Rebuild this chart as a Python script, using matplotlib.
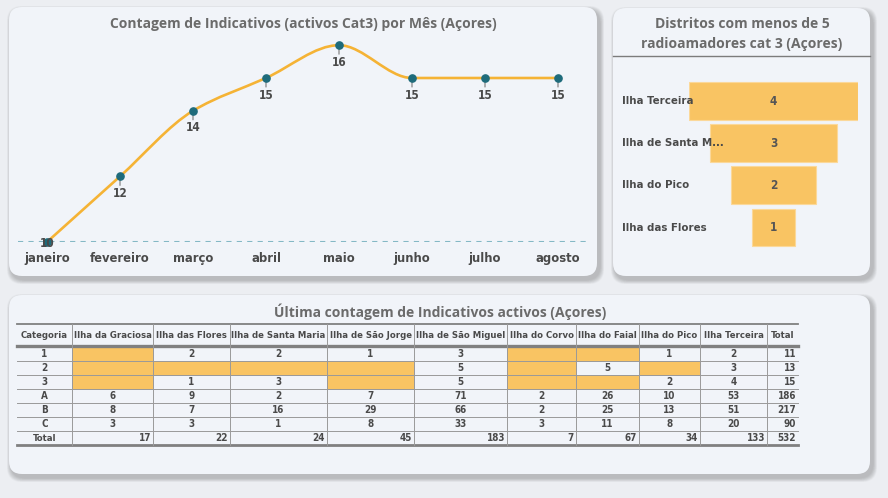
import numpy as np
import matplotlib
matplotlib.use("Agg")
import matplotlib.pyplot as plt
from matplotlib.patches import FancyBboxPatch, Rectangle
from matplotlib.path import Path
from matplotlib.patches import PathPatch
from matplotlib.transforms import blended_transform_factory

# ---- data ----
months = ["janeiro", "fevereiro", "março", "abril", "maio", "junho", "julho", "agosto"]
month_counts = [10, 12, 14, 15, 16, 15, 15, 15]

funnel_labels = ["Ilha Terceira", "Ilha de Santa Maria", "Ilha do Pico", "Ilha das Flores"]
funnel_values = [4, 3, 2, 1]

table_categories = ["1", "2", "3", "A", "B", "C"]
islands = ["Ilha da Graciosa", "Ilha das Flores", "Ilha de Santa Maria", "Ilha de São Jorge",
           "Ilha de São Miguel", "Ilha do Corvo", "Ilha do Faial", "Ilha do Pico", "Ilha Terceira"]
graciosa = [None, None, None, 6, 8, 3]
flores = [2, None, 1, 9, 7, 3]
santa_maria = [2, None, 3, 2, 16, 1]
sao_jorge = [1, None, None, 7, 29, 8]
sao_miguel = [3, 5, 5, 71, 66, 33]
corvo = [None, None, None, 2, 2, 3]
faial = [None, 5, None, 26, 25, 11]
pico = [1, None, 2, 10, 13, 8]
terceira = [2, 3, 4, 53, 51, 20]
island_cols = [graciosa, flores, santa_maria, sao_jorge, sao_miguel, corvo, faial, pico, terceira]

W, H = 888, 498
FIG_BG = "#eceef2"
PANEL_BG = "#f1f4f9"
TITLE_C = "#6b6b6b"
TEXT_C = "#4a4a4a"
ORANGE = "#f9c463"
LINE_C = "#f5b335"
TEAL = "#1e6b7b"

COND = dict(family="DejaVu Sans", fontstretch="condensed", fontweight="bold")

fig = plt.figure(figsize=(W / 100, H / 100), dpi=100)
fig.patch.set_facecolor(FIG_BG)

bg = fig.add_axes([0, 0, 1, 1], zorder=0)
bg.set_xlim(0, W)
bg.set_ylim(H, 0)
bg.axis("off")


def px_axes(x0, y0, x1, y1):
    a = fig.add_axes([x0 / W, 1 - y1 / H, (x1 - x0) / W, (y1 - y0) / H], zorder=2)
    a.patch.set_alpha(0)
    for s in a.spines.values():
        s.set_visible(False)
    return a


def panel(x0, y0, x1, y1):
    # soft shadow
    for k in range(10, 0, -1):
        sh = FancyBboxPatch((x0 + 2 - k * 0.4, y0 + 3 - k * 0.4), x1 - x0 + k * 0.8 + 1,
                            y1 - y0 + k * 0.8 + 1,
                            boxstyle="round,pad=0,rounding_size=15",
                            fc="#6a6a6a", ec="none", alpha=0.045)
        bg.add_patch(sh)
    p = FancyBboxPatch((x0, y0), x1 - x0, y1 - y0, boxstyle="round,pad=0,rounding_size=13",
                       fc=PANEL_BG, ec="none")
    bg.add_patch(p)


panel(9, 7, 597, 276)
panel(613, 8, 870, 276)
panel(9, 295, 870, 474)

# ---- line chart ----
bg.text(303, 24, "Contagem de Indicativos (activos Cat3) por Mês (Açores)", ha="center", va="center",
        fontsize=10, fontweight="bold", color=TITLE_C, family="Open Sans")

ax1 = px_axes(18, 35, 587, 242)
step_px, unit_px = 73.0, 32.8
ax1.set_xlim(-29 / step_px, len(months) - 1 + 29 / step_px)
ax1.set_ylim(min(month_counts), min(month_counts) + 207 / unit_px)
ax1.set_xticks([])
ax1.set_yticks([])

xs = np.arange(len(months), dtype=float)
ys = np.array(month_counts, dtype=float)

# monotone cubic bezier through the points (rendering only)
d = np.diff(ys) / np.diff(xs)
m = np.zeros_like(ys)
m[0], m[-1] = d[0], d[-1]
for k in range(1, len(ys) - 1):
    if d[k - 1] * d[k] > 0:
        m[k] = 2 / (1 / d[k - 1] + 1 / d[k])
verts = [(xs[0], ys[0])]
codes = [Path.MOVETO]
for k in range(len(xs) - 1):
    h = xs[k + 1] - xs[k]
    verts += [(xs[k] + h / 3, ys[k] + m[k] * h / 3),
              (xs[k + 1] - h / 3, ys[k + 1] - m[k + 1] * h / 3),
              (xs[k + 1], ys[k + 1])]
    codes += [Path.CURVE4] * 3
ax1.add_patch(PathPatch(Path(verts, codes), fc="none", ec=LINE_C, lw=1.9, clip_on=False, zorder=3))

ax1.axhline(min(month_counts), color="#84b8c5", lw=1.5, ls=(0, (2.5, 2.5)), zorder=2)
ax1.plot(xs, ys, "o", color=TEAL, ms=5.2, clip_on=False, zorder=4)

for k, v in enumerate(month_counts):
    if v == min(month_counts):
        ax1.annotate(str(v), (k, v), xytext=(0, -1), textcoords="offset pixels",
                     ha="center", va="center", fontsize=8.5, color=TEXT_C, zorder=5, **COND)
    else:
        ax1.annotate("", (k, v), xytext=(0, -9), textcoords="offset pixels",
                     arrowprops=dict(arrowstyle="-", color="#777777", lw=0.8, shrinkA=0, shrinkB=0))
        ax1.annotate(str(v), (k, v), xytext=(0, -17), textcoords="offset pixels",
                     ha="center", va="center", fontsize=8.5, color=TEXT_C, **COND)
    ax1.annotate(months[k], (k, min(month_counts)), xytext=(0, -16), textcoords="offset pixels",
                 ha="center", va="center", fontsize=9.3, color=TEXT_C, annotation_clip=False, **COND)

# ---- funnel ----
bg.text(742, 24, "Distritos com menos de 5", ha="center", va="center",
        fontsize=10, fontweight="bold", color=TITLE_C, family="Open Sans")
bg.text(742, 44, "radioamadores cat 3 (Açores)", ha="center", va="center",
        fontsize=10, fontweight="bold", color=TITLE_C, family="Open Sans")
bg.plot([613, 870], [56, 56], color="#7c7c7c", lw=1)

ax2 = px_axes(689, 80, 858, 248.6)
ax2.set_xlim(-max(funnel_values) / 2, max(funnel_values) / 2)
ax2.set_ylim(len(funnel_values) - 0.5, -0.5)
ax2.set_xticks([])
ax2.set_yticks([])
fy = np.arange(len(funnel_values))
fv = np.array(funnel_values, dtype=float)
ax2.barh(fy, fv, left=-fv / 2, height=0.9, color=ORANGE, edgecolor="#fbd89a", lw=0.8)
lab_tr = blended_transform_factory(fig.transFigure, ax2.transData)
for i, (lab, v) in enumerate(zip(funnel_labels, funnel_values)):
    ax2.text(0, i, str(v), ha="center", va="center", fontsize=8.5, color="#555555", **COND)
    shown = lab if len(lab) <= 15 else lab[:15] + "..."
    ax2.text(622 / W, i, shown, transform=lab_tr, ha="left", va="center",
             fontsize=8.2, color=TEXT_C, clip_on=False, zorder=1, **COND)

# ---- table ----
bg.text(440, 312, "Última contagem de Indicativos activos (Açores)", ha="center", va="center",
        fontsize=10, fontweight="bold", color=TITLE_C, family="Open Sans")

col_edges = [17, 72, 153, 230, 327, 414, 507, 576, 639, 700, 767, 798]
head_top, head_bot = 324, 346
row_h = 14
TFS = 6.8
GRID = "#9a9a9a"

headers = ["Categoria"] + islands + ["Total"]
for j, hname in enumerate(headers):
    cx = (col_edges[j] + col_edges[j + 1]) / 2
    bg.text(cx, (head_top + head_bot) / 2, hname, ha="center", va="center",
            fontsize=TFS, color=TEXT_C, **COND)

row_totals = [sum(c[i] or 0 for c in island_cols) for i in range(len(table_categories))]
col_totals = [sum(v or 0 for v in c) for c in island_cols]

for i, cat in enumerate(table_categories):
    y0 = head_bot + 1 + row_h * i
    cy = y0 + row_h / 2
    bg.text((col_edges[0] + col_edges[1]) / 2, cy, cat, ha="center", va="center",
            fontsize=TFS + 0.3, color=TEXT_C, **COND)
    for j, col in enumerate(island_cols):
        xa, xb = col_edges[j + 1], col_edges[j + 2]
        v = col[i]
        if v is None:
            bg.add_patch(Rectangle((xa, y0), xb - xa, row_h, fc=ORANGE, ec="#e0a850", lw=0.6, zorder=1))
        else:
            bg.text((xa + xb) / 2, cy, str(v), ha="center", va="center",
                    fontsize=TFS + 0.3, color=TEXT_C, **COND)
    bg.text(col_edges[-1] - 2, cy, str(row_totals[i]), ha="right", va="center",
            fontsize=TFS + 0.3, color=TEXT_C, **COND)
    bg.plot([col_edges[0], col_edges[-1]], [y0 + row_h, y0 + row_h], color=GRID, lw=0.7, zorder=2)

ty0 = head_bot + 1 + row_h * len(table_categories)
tcy = ty0 + row_h / 2
bg.text((col_edges[0] + col_edges[1]) / 2, tcy, "Total", ha="center", va="center",
        fontsize=TFS, color=TEXT_C, **COND)
for j, tot in enumerate(col_totals + [sum(col_totals)]):
    bg.text(col_edges[j + 2] - 2, tcy, str(tot), ha="right", va="center",
            fontsize=TFS + 0.3, color=TEXT_C, **COND)
t_bot = ty0 + row_h

bg.plot([col_edges[0], col_edges[-1]], [head_top, head_top], color="#808080", lw=1.3, zorder=2)
bg.plot([col_edges[0], col_edges[-1]], [head_bot, head_bot], color="#808080", lw=2.4, zorder=2)
bg.plot([col_edges[0], col_edges[-1]], [t_bot, t_bot], color="#808080", lw=2.0, zorder=2)
for xe in col_edges[1:-1]:
    bg.plot([xe, xe], [head_top, t_bot], color=GRID, lw=0.7, zorder=2)

fig.savefig("out.png", dpi=100, facecolor=FIG_BG)
